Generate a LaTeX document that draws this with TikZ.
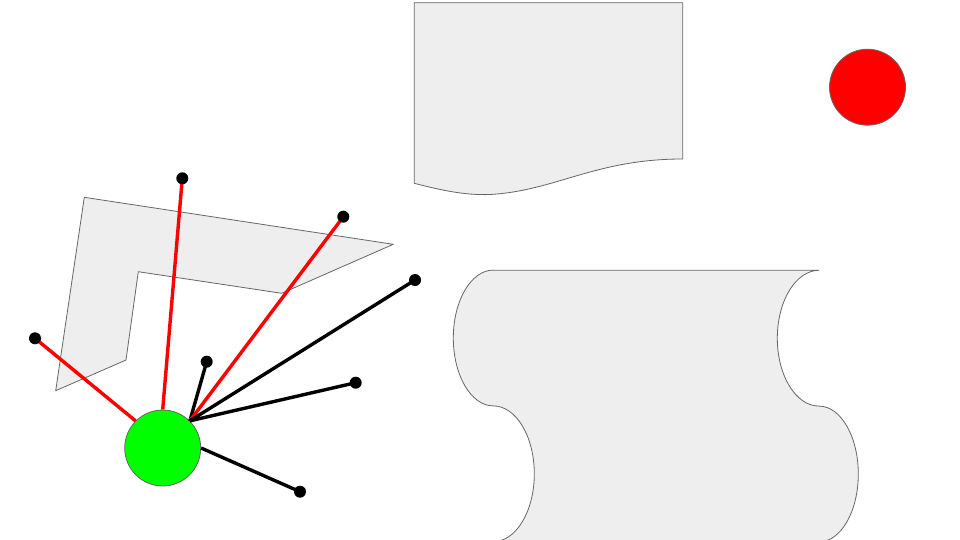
\documentclass[tikz,border=0pt]{standalone}
\usetikzlibrary{calc}
\definecolor{shapefill}{HTML}{EEEEEE}
\definecolor{shapeline}{HTML}{666666}
\definecolor{brightgreen}{HTML}{00FF00}
\definecolor{brightred}{HTML}{FF0000}
\tikzset{
  grayshape/.style={fill=shapefill, draw=shapeline, line width=0.8pt, line join=round},
  ball/.style={circle, draw=shapeline, line width=0.8pt, minimum size=76pt, inner sep=0pt},
  redlink/.style={draw=brightred, line width=3.4pt},
  blacklink/.style={draw=black, line width=3.4pt},
  enddot/.style={circle, fill=black, minimum size=12pt, inner sep=0pt},
}
\begin{document}
\begin{tikzpicture}[x=1pt,y=-1pt]
\useasboundingbox (0,0) rectangle (960,540);
\clip (0,0) rectangle (960,540);
% document shape
\draw[grayshape] (414.3,2.7) -- (682.7,2.7) -- (682.7,159)
  .. controls (595,159) and (555,191) .. (490,194.5)
  .. controls (465,195.5) and (440,190) .. (414.3,183.3) -- cycle;
% red circle
\node[ball, fill=brightred] (r) at (867.5,87.2) {};
% L polygon
\draw[grayshape] (84.3,197.3) -- (393.3,244.3) -- (281.7,293.3) -- (138.3,271.7)
  -- (126,360) -- (55.7,390.7) -- cycle;
% tape shape
\draw[grayshape] (493.3,270.3) -- (819,270.3)
  arc[start angle=270, end angle=90, x radius=41.7, y radius=67.9]
  arc[start angle=-90, end angle=90, x radius=39.3, y radius=67.9]
  -- (493.3,541.7)
  arc[start angle=90, end angle=-90, x radius=41, y radius=67.9]
  arc[start angle=90, end angle=270, x radius=40, y radius=67.9]
  -- cycle;
% green hub
\node[ball, fill=brightgreen] (g) at (162.7,448) {};
% end points
\coordinate (e1) at (182.3,178.3);
\coordinate (e2) at (343.3,216.7);
\coordinate (e3) at (35,338.3);
\coordinate (e4) at (206.7,361.7);
\coordinate (e5) at (415,280);
\coordinate (e6) at (355.7,382.7);
\coordinate (e7) at (300,491.7);
\draw[redlink] (g.north west) -- (e3);
\draw[redlink] (g.north) -- (e1);
\draw[blacklink] (g.north east) -- (e4);
\draw[redlink] (g.north east) -- (e2);
\draw[blacklink] (g.north east) -- (e5);
\draw[blacklink] (g.north east) -- (e6);
\draw[blacklink] (g.east) -- (e7);
\foreach \p in {e1,e2,e3,e4,e5,e6,e7} \node[enddot] at (\p) {};
\end{tikzpicture}
\end{document}
